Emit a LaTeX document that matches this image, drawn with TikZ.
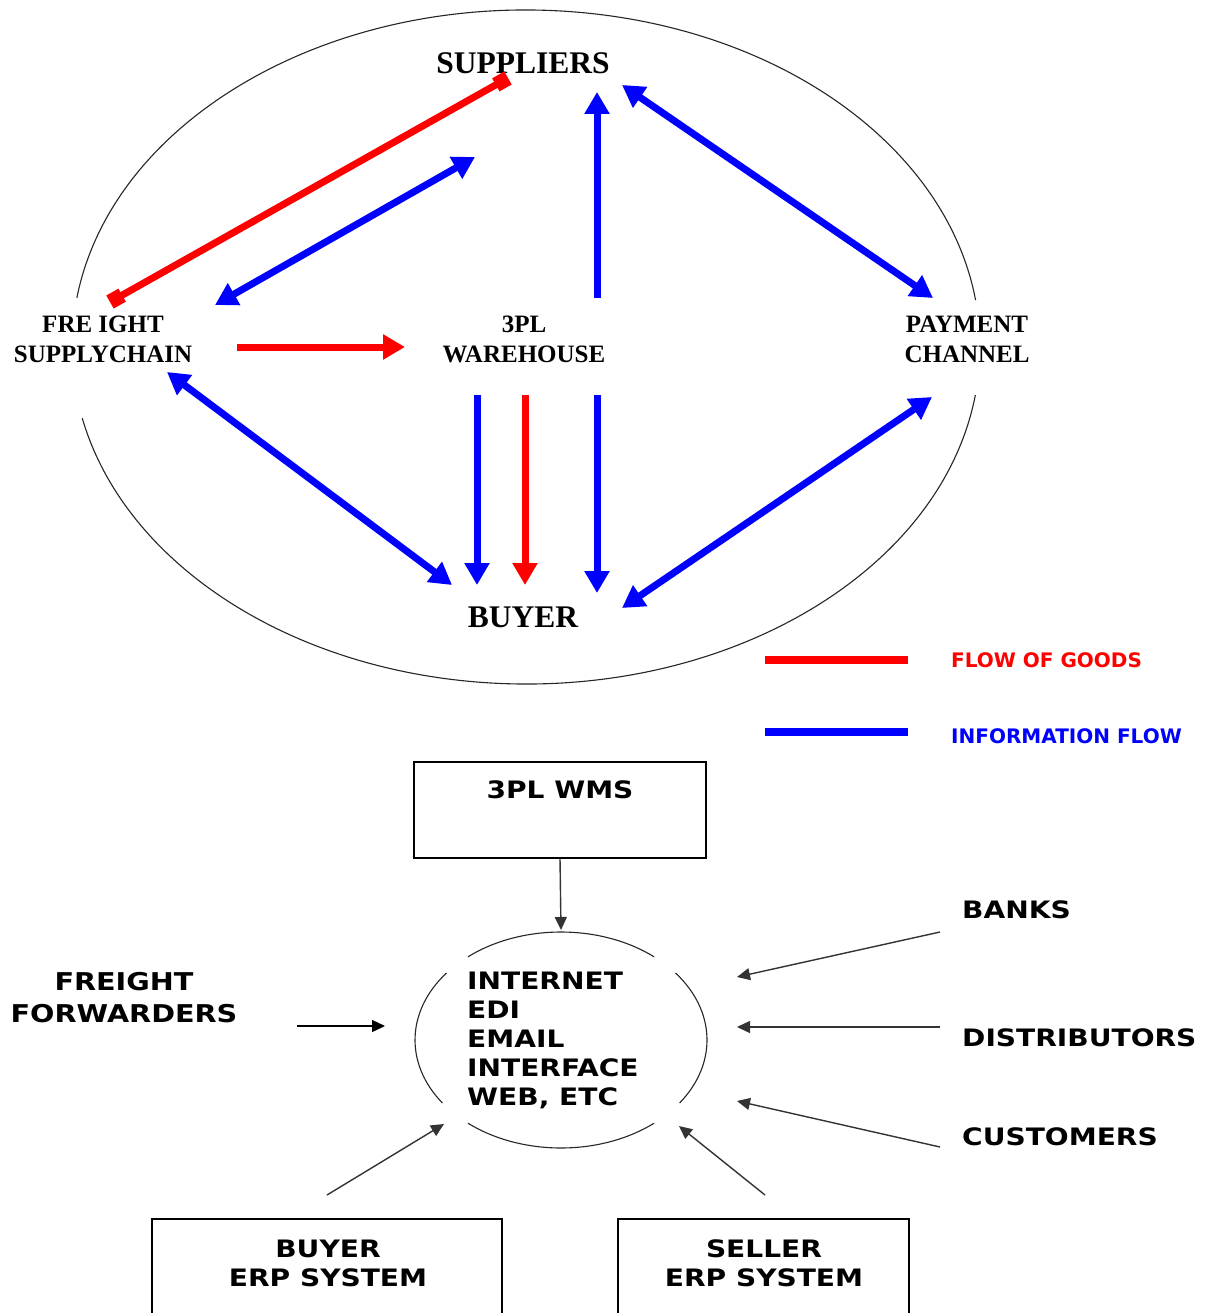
\documentclass[tikz,border=0pt]{standalone}
\usepackage{fontspec}
\usetikzlibrary{arrows.meta}
\newfontfamily\topfont{Liberation Serif}
\newfontfamily\boxfont[FakeStretch=1.17]{DejaVu Sans}
\newfontfamily\keyfont{DejaVu Sans}
\definecolor{goods}{RGB}{255,0,0}
\definecolor{info}{RGB}{0,0,255}
\tikzset{
  toplabel/.style={font=\topfont\bfseries\fontsize{25}{30}\selectfont, align=center, inner sep=0pt},
  bigtoplabel/.style={font=\topfont\bfseries\fontsize{31.5}{36}\selectfont, inner sep=0pt},
  boxlabel/.style={font=\boxfont\bfseries\fontsize{24}{29}\selectfont, inner sep=0pt},
  keylabel/.style={font=\keyfont\bfseries\fontsize{20}{24}\selectfont, inner sep=0pt, anchor=west},
  flow/.style={line width=7pt, -{Triangle[length=22pt,width=24pt]}},
  flowboth/.style={line width=7pt, {Triangle[length=22pt,width=24pt]}-{Triangle[length=22pt,width=24pt]}},
  goodsboth/.style={line width=7pt, {Square[length=14pt,width=15pt]}-{Square[length=14pt,width=15pt]}},
  thinarrow/.style={line width=1.4pt, -{Triangle[length=13pt,width=12pt]}},
  sysbox/.style={draw, line width=1.5pt, inner sep=0pt},
  rim/.style={line width=1.1pt, black!85}
}
\begin{document}
\begin{tikzpicture}[x=1pt, y=-1pt]
  \useasboundingbox (0,0) rectangle (1210,1313);
  \fill[white] (0,0) rectangle (1210,1313);
  \clip (0,0) rectangle (1210,1313);

  % ---------- upper diagram: trading partners ----------
  \coordinate (ring) at (526,347);
  \draw[rim] (ring) ++(8.2:454 and 337) arc[start angle=8.2, end angle=167.8, x radius=454, y radius=337];
  \draw[rim] (ring) ++(188.4:454 and 337) arc[start angle=188.4, end angle=352, x radius=454, y radius=337];

  \node[bigtoplabel] (sup) at (523,63) {SUPPLIERS};
  \node[bigtoplabel] (buy) at (523,617) {BUYER};
  \node[toplabel] (fre) at (103,339) {FRE IGHT\\SUPPLYCHAIN};
  \node[toplabel] (wh) at (524,339) {3PL\\WAREHOUSE};
  \node[toplabel] (pay) at (967,339) {PAYMENT\\CHANNEL};

  % connector end points around the labels
  \coordinate (supR) at (508,78);   \coordinate (freR) at (110,302);
  \coordinate (supB) at (475,157);  \coordinate (freB) at (215,305);
  \coordinate (freE) at (237,347);  \coordinate (whW) at (405,347);
  \coordinate (whN) at (597,298);   \coordinate (supS) at (597,92);
  \coordinate (supE) at (622,85);   \coordinate (payN) at (933,298);
  \coordinate (freS) at (167,372);  \coordinate (buyNW) at (452,585);
  \coordinate (whS1) at (477,395);  \coordinate (buyN1) at (477,585);
  \coordinate (whS2) at (525,395);  \coordinate (buyN2) at (525,585);
  \coordinate (whS3) at (597,395);  \coordinate (buyN3) at (597,593);
  \coordinate (payS) at (932,397);  \coordinate (buyNE) at (622,608);

  \draw[goodsboth, goods] (supR) -- (freR);
  \draw[flowboth, info] (supB) -- (freB);
  \draw[flow, goods] (freE) -- (whW);
  \draw[flow, info] (whN) -- (supS);
  \draw[flowboth, info] (supE) -- (payN);
  \draw[flowboth, info] (freS) -- (buyNW);
  \draw[flow, info] (whS1) -- (buyN1);
  \draw[flow, goods] (whS2) -- (buyN2);
  \draw[flow, info] (whS3) -- (buyN3);
  \draw[flowboth, info] (payS) -- (buyNE);

  % legend
  \coordinate (kg1) at (765,660); \coordinate (kg2) at (908,660);
  \coordinate (ki1) at (765,732); \coordinate (ki2) at (908,732);
  \draw[goods, line width=8pt] (kg1) -- (kg2);
  \draw[info, line width=8pt] (ki1) -- (ki2);
  \node[keylabel, text=goods] (kgt) at (951,660) {FLOW OF GOODS};
  \node[keylabel, text=info] (kit) at (951,736) {INFORMATION FLOW};

  % ---------- lower diagram: communication hub ----------
  \node[sysbox, minimum width=292pt, minimum height=96pt] (wms) at (560,810) {};
  \node[boxlabel] (wmst) at (560,790) {3PL WMS};

  \coordinate (hub) at (561,1040);
  \draw[rim] (hub) ++(230.4:146 and 108) arc[start angle=230.4, end angle=309.6, x radius=146, y radius=108];
  \draw[rim] (hub) ++(50.4:146 and 108) arc[start angle=50.4, end angle=129.6, x radius=146, y radius=108];
  \draw[rim] (hub) ++(144.3:146 and 108) arc[start angle=144.3, end angle=218.3, x radius=146, y radius=108];
  \draw[rim] (hub) ++(-38.3:146 and 108) arc[start angle=-38.3, end angle=35.7, x radius=146, y radius=108];
  \node[boxlabel, align=left, anchor=west] (hubt) at (467,1040)
    {INTERNET\\EDI\\EMAIL\\INTERFACE\\WEB, ETC};

  \node[boxlabel, align=center, font=\boxfont\bfseries\fontsize{24.5}{32}\selectfont] (ff) at (124,998) {FREIGHT\\FORWARDERS};
  \node[boxlabel, anchor=west] (bank) at (962,910) {BANKS};
  \node[boxlabel, anchor=west] (dist) at (962,1038) {DISTRIBUTORS};
  \node[boxlabel, anchor=west] (cust) at (962,1137) {CUSTOMERS};

  \node[sysbox, minimum width=350pt, minimum height=140pt, anchor=north] (berp) at (327,1218) {};
  \node[sysbox, minimum width=291pt, minimum height=140pt, anchor=north] (serp) at (763.5,1218) {};
  \node[boxlabel, align=center] (berpt) at (328,1263) {BUYER\\ERP SYSTEM};
  \node[boxlabel, align=center] (serpt) at (764,1263) {SELLER\\ERP SYSTEM};

  \coordinate (hubN) at (561,930);
  \coordinate (ffE) at (297,1026);   \coordinate (hubW) at (385,1026);
  \coordinate (bankW) at (940,932);  \coordinate (hubNE) at (737,977);
  \coordinate (distW) at (940,1027); \coordinate (hubE) at (737,1027);
  \coordinate (custW) at (940,1147); \coordinate (hubSE) at (737,1101);
  \coordinate (berpN) at (327,1195); \coordinate (hubSW) at (444,1124);
  \coordinate (serpN) at (765,1195); \coordinate (hubS) at (679,1126);

  \draw[thinarrow, black!80] (wms.south) -- (hubN);
  \draw[thinarrow] (ffE) -- (hubW);
  \draw[thinarrow, black!80] (bankW) -- (hubNE);
  \draw[thinarrow, black!80] (distW) -- (hubE);
  \draw[thinarrow, black!80] (custW) -- (hubSE);
  \draw[thinarrow, black!80] (berpN) -- (hubSW);
  \draw[thinarrow, black!80] (serpN) -- (hubS);
\end{tikzpicture}
\end{document}
